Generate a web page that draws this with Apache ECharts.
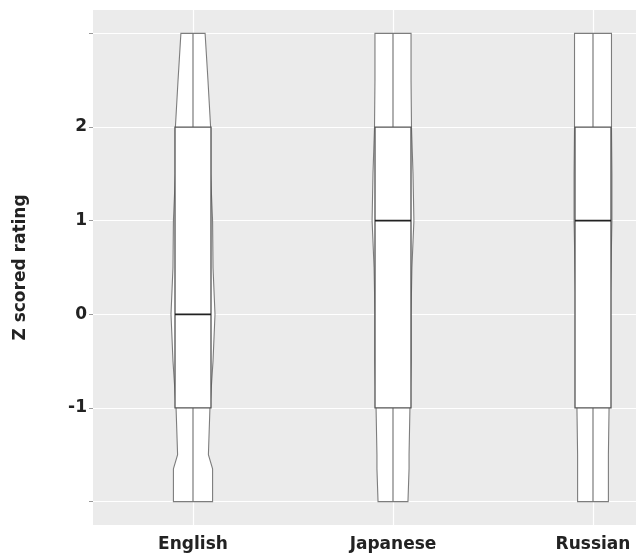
<!DOCTYPE html>
<html>
<head>
<meta charset="utf-8">
<script src="https://cdn.jsdelivr.net/npm/echarts@6/dist/echarts.min.js"></script>
<style>
  html, body { margin: 0; padding: 0; background: #fff; overflow: hidden; }
  /* the plot panel runs past the right edge of the window, as in the reference */
  #chart { width: 693px; height: 558px; }
</style>
</head>
<body>
<div id="chart"></div>
<script>
// categories and box statistics
var categories = ["English", "Japanese", "Russian"];
var whiskerLow = [-2, -2, -2];
var q1 = [-1, -1, -1];
var median = [0, 1, 1];
var q3 = [2, 2, 2];
var whiskerHigh = [3, 3, 3];

// violin outline: relative density at each level
var violinLevels = [3, 2.5, 2, 1.5, 1, 0.5, 0, -0.5, -1, -1.5, -1.65, -2];
var violinEnglish = [0.55, 0.68, 0.8, 0.8, 0.89, 0.91, 1.0, 0.91, 0.77, 0.7, 0.89, 0.89];
var violinJapanese = [0.82, 0.82, 0.84, 0.91, 0.95, 0.86, 0.82, 0.82, 0.77, 0.73, 0.73, 0.68];
var violinRussian = [0.84, 0.84, 0.84, 0.86, 0.86, 0.82, 0.77, 0.73, 0.73, 0.7, 0.7, 0.7];
var violins = [violinEnglish, violinJapanese, violinRussian];

// axis
var yTickValues = [-2, -1, 0, 1, 2, 3];
var yLabelValues = [-1, 0, 1, 2];

var font = "DejaVu Sans";
var chart = echarts.init(document.getElementById("chart"));

function renderViolinBox(params, api) {
  var ci = api.value(0);
  var band = api.size([1, 0])[0];
  var cx = api.coord([ci, 0])[0];
  var y = function (v) { return api.coord([ci, v])[1]; };
  var dens = violins[ci];
  var maxHalf = band * 0.11;
  var boxHalf = band * 0.09;

  var right = [], left = [];
  for (var k = 0; k < violinLevels.length; k++) {
    var yy = y(violinLevels[k]);
    right.push([cx + dens[k] * maxHalf, yy]);
    left.unshift([cx - dens[k] * maxHalf, yy]);
  }
  var pts = right.concat(left);

  var yq1 = y(q1[ci]), yq3 = y(q3[ci]);
  return {
    type: "group",
    children: [
      {
        type: "polygon",
        shape: { points: pts },
        style: { fill: "#fff", stroke: "#7d7d7d", lineWidth: 1.1 }
      },
      {
        type: "line",
        shape: { x1: cx, y1: y(whiskerHigh[ci]), x2: cx, y2: yq3 },
        style: { stroke: "#6e6e6e", lineWidth: 1.1 }
      },
      {
        type: "line",
        shape: { x1: cx, y1: yq1, x2: cx, y2: y(whiskerLow[ci]) },
        style: { stroke: "#6e6e6e", lineWidth: 1.1 }
      },
      {
        type: "rect",
        shape: { x: cx - boxHalf, y: yq3, width: boxHalf * 2, height: yq1 - yq3 },
        style: { fill: "#fff", stroke: "#555", lineWidth: 1.3 }
      },
      {
        type: "line",
        shape: { x1: cx - boxHalf, y1: y(median[ci]), x2: cx + boxHalf, y2: y(median[ci]) },
        style: { stroke: "#222", lineWidth: 1.7 }
      }
    ]
  };
}

var gridLines = yTickValues.map(function (v) { return { yAxis: v }; })
  .concat(categories.map(function (c) { return { xAxis: c }; }));

var option = {
  animation: false,
  grid: {
    left: 93,
    top: 10,
    right: 0,
    bottom: 33,
    show: true,
    backgroundColor: "#ebebeb",
    borderWidth: 0
  },
  xAxis: {
    type: "category",
    data: categories,
    boundaryGap: true,
    axisLine: { show: false },
    axisTick: { show: true, alignWithLabel: true, length: 4, lineStyle: { color: "#999" } },
    axisLabel: { margin: 11, color: "#222", fontFamily: font, fontWeight: "bold", fontSize: 17 },
    splitLine: { show: false }
  },
  yAxis: {
    type: "value",
    min: -2.25,
    max: 3.25,
    name: "Z scored rating",
    nameLocation: "middle",
    nameGap: 64,
    nameRotate: 90,
    nameTextStyle: { color: "#222", fontFamily: font, fontWeight: "bold", fontSize: 17 },
    axisLine: { show: false },
    axisTick: { show: true, length: 4, customValues: yTickValues, lineStyle: { color: "#999" } },
    axisLabel: { margin: 6, customValues: yLabelValues, color: "#222", fontFamily: font, fontWeight: "bold", fontSize: 17 },
    splitLine: { show: false }
  },
  series: [
    {
      type: "line",
      data: [],
      z: 1,
      silent: true,
      markLine: {
        z: 1,
        silent: true,
        symbol: "none",
        label: { show: false },
        lineStyle: { color: "#fff", width: 1.2, type: "solid" },
        data: gridLines
      }
    },
    {
      type: "custom",
      z: 3,
      silent: true,
      renderItem: renderViolinBox,
      data: categories.map(function (c, i) { return [i]; })
    }
  ]
};
chart.setOption(option);
</script>
</body>
</html>
